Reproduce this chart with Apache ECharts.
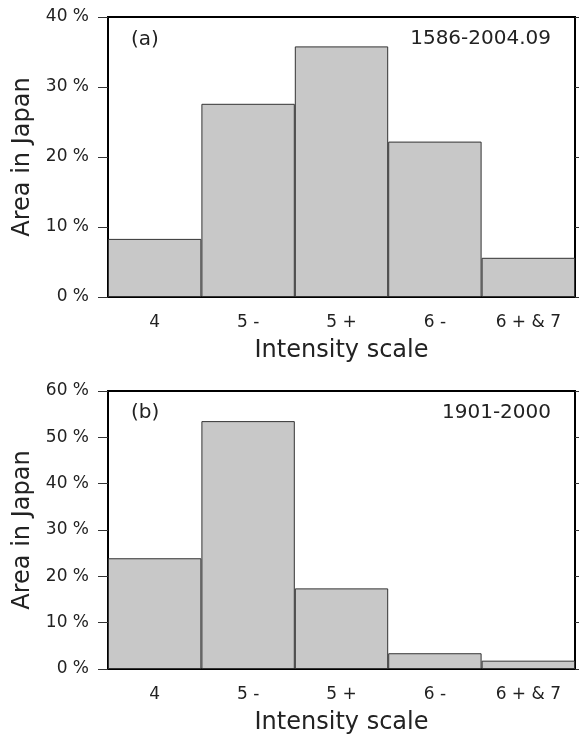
<!DOCTYPE html>
<html>
<head>
<meta charset="utf-8">
<script src="https://cdn.jsdelivr.net/npm/echarts@6/dist/echarts.min.js"></script>
<style>
  html, body { margin: 0; padding: 0; background: #fff; }
  #chart { width: 579px; height: 742px; }
</style>
</head>
<body>
<div id="chart"></div>
<script>
// 数据
const categories = ['4', '5 -', '5 +', '6 -', '6 + & 7'];
const valuesA = [8.3, 27.6, 35.8, 22.2, 5.6];   // 1586-2004.09
const valuesB = [23.9, 53.5, 17.4, 3.4, 1.8];   // 1901-2000
const yTicksA = [0, 10, 20, 30, 40];
const yTicksB = [0, 10, 20, 30, 40, 50, 60];

const FONT = 'DejaVu Sans';
const TXT = '#222';

const chart = echarts.init(document.getElementById('chart'), null, {renderer: 'canvas'});

// 左侧 y 轴
function leftAxis(gridIndex, ticks) {
    return {
        type: 'value',
        gridIndex: gridIndex,
        position: 'left',
        min: ticks[0],
        max: ticks[ticks.length - 1],
        interval: ticks[1] - ticks[0],
        name: 'Area in Japan',
        nameLocation: 'middle',
        nameGap: 71,
        nameTextStyle: {fontFamily: FONT, fontSize: 24, color: TXT},
        axisLine: {show: true, lineStyle: {color: '#000', width: 2}},
        axisTick: {show: true, inside: false, length: 10, lineStyle: {color: '#333', width: 1}},
        axisLabel: {margin: 19, fontFamily: FONT, fontSize: 17, color: TXT, formatter: '{value} %'},
        splitLine: {show: false}
    };
}

// 右侧只画刻度
function rightAxis(gridIndex, ticks) {
    return {
        type: 'value',
        gridIndex: gridIndex,
        position: 'right',
        min: ticks[0],
        max: ticks[ticks.length - 1],
        interval: ticks[1] - ticks[0],
        axisLine: {show: true, lineStyle: {color: '#000', width: 2}},
        axisTick: {show: true, inside: false, length: 4, lineStyle: {color: '#333', width: 1}},
        axisLabel: {show: false},
        splitLine: {show: false}
    };
}

function xAxis(gridIndex) {
    return {
        type: 'category',
        gridIndex: gridIndex,
        data: categories,
        name: 'Intensity scale',
        nameLocation: 'middle',
        nameGap: 42,
        nameTextStyle: {fontFamily: FONT, fontSize: 24, color: TXT},
        axisLine: {show: true, lineStyle: {color: '#000', width: 2}},
        axisTick: {show: false},
        axisLabel: {margin: 17, fontFamily: FONT, fontSize: 17, color: TXT}
    };
}

function barSeries(idx, data) {
    return {
        type: 'bar',
        xAxisIndex: idx,
        yAxisIndex: idx * 2,
        data: data,
        barCategoryGap: 0,
        itemStyle: {color: '#c8c8c8', borderColor: '#333', borderWidth: 1},
        silent: true
    };
}

const labelStyle = {fontFamily: FONT, fontSize: 20, fontWeight: 'normal', color: TXT};

const option = {
    backgroundColor: '#fff',
    animation: false,
    title: [
        {text: '(a)', left: 131, top: 30, padding: 0, textStyle: labelStyle},
        {text: '1586-2004.09', right: 28, top: 29, padding: 0, textStyle: labelStyle},
        {text: '(b)', left: 131, top: 403, padding: 0, textStyle: labelStyle},
        {text: '1901-2000', right: 28, top: 403, padding: 0, textStyle: labelStyle}
    ],
    grid: [
        {left: 108, right: 4, top: 17, height: 280, show: true, borderColor: '#000', borderWidth: 2, backgroundColor: 'transparent'},
        {left: 108, right: 4, top: 391, height: 278, show: true, borderColor: '#000', borderWidth: 2, backgroundColor: 'transparent'}
    ],
    xAxis: [xAxis(0), xAxis(1)],
    yAxis: [leftAxis(0, yTicksA), rightAxis(0, yTicksA), leftAxis(1, yTicksB), rightAxis(1, yTicksB)],
    series: [barSeries(0, valuesA), barSeries(1, valuesB)]
};

chart.setOption(option);
</script>
</body>
</html>
